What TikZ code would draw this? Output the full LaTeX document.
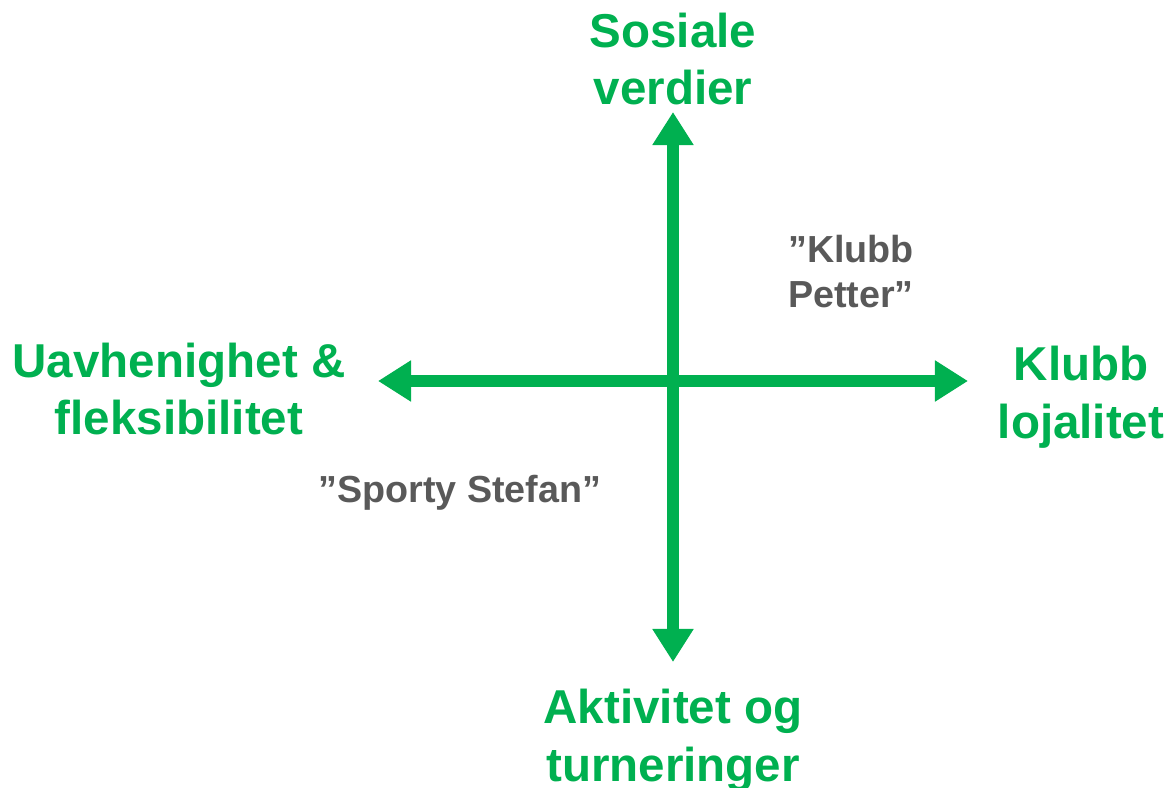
\documentclass[tikz,border=0pt]{standalone}
\usepackage{fontspec}
\setmainfont{Liberation Sans}
\usepackage{tikz}
\usetikzlibrary{arrows.meta,positioning}
\usepackage{xcolor}
\definecolor{axisgreen}{HTML}{00B050}
\definecolor{persgray}{HTML}{595959}

\begin{document}
\begin{tikzpicture}[x=0.025cm,y=-0.025cm,
  axislabel/.style={text=axisgreen, font=\bfseries\fontsize{33.8}{41}\selectfont, align=center, inner sep=0pt},
  persona/.style={text=persgray, font=\bfseries\fontsize{26.8}{32}\selectfont, align=center, inner sep=0pt},
  axis/.style={draw=axisgreen, line width=0.3cm, {Triangle[width=0.975cm,length=0.825cm]}-{Triangle[width=0.975cm,length=0.825cm]}}]
\useasboundingbox (0,0) rectangle (1173,788);

% End points of the two axes
\coordinate (top) at (673,112);
\coordinate (bot) at (673,662);
\coordinate (left) at (378,381);
\coordinate (right) at (968,381);
\draw[axis] (bot) -- (top);
\draw[axis] (left) -- (right);

% Axis labels
\node[axislabel] (sosial) at (673,59) {Sosiale\\verdier};
\node[axislabel] (uavh) at (179,389) {Uavhenighet \&\\fleksibilitet};
\node[axislabel] (klubb) at (1081,397) {Klubb\\lojalitet};
\node[axislabel] (aktiv) at (673,740) {Aktivitet og\\turneringer};

% Personas
\node[persona] (petter) at (851,272) {”Klubb\\Petter”};
\node[persona] (stefan) at (460,493) {”Sporty Stefan”};
\end{tikzpicture}
\end{document}
